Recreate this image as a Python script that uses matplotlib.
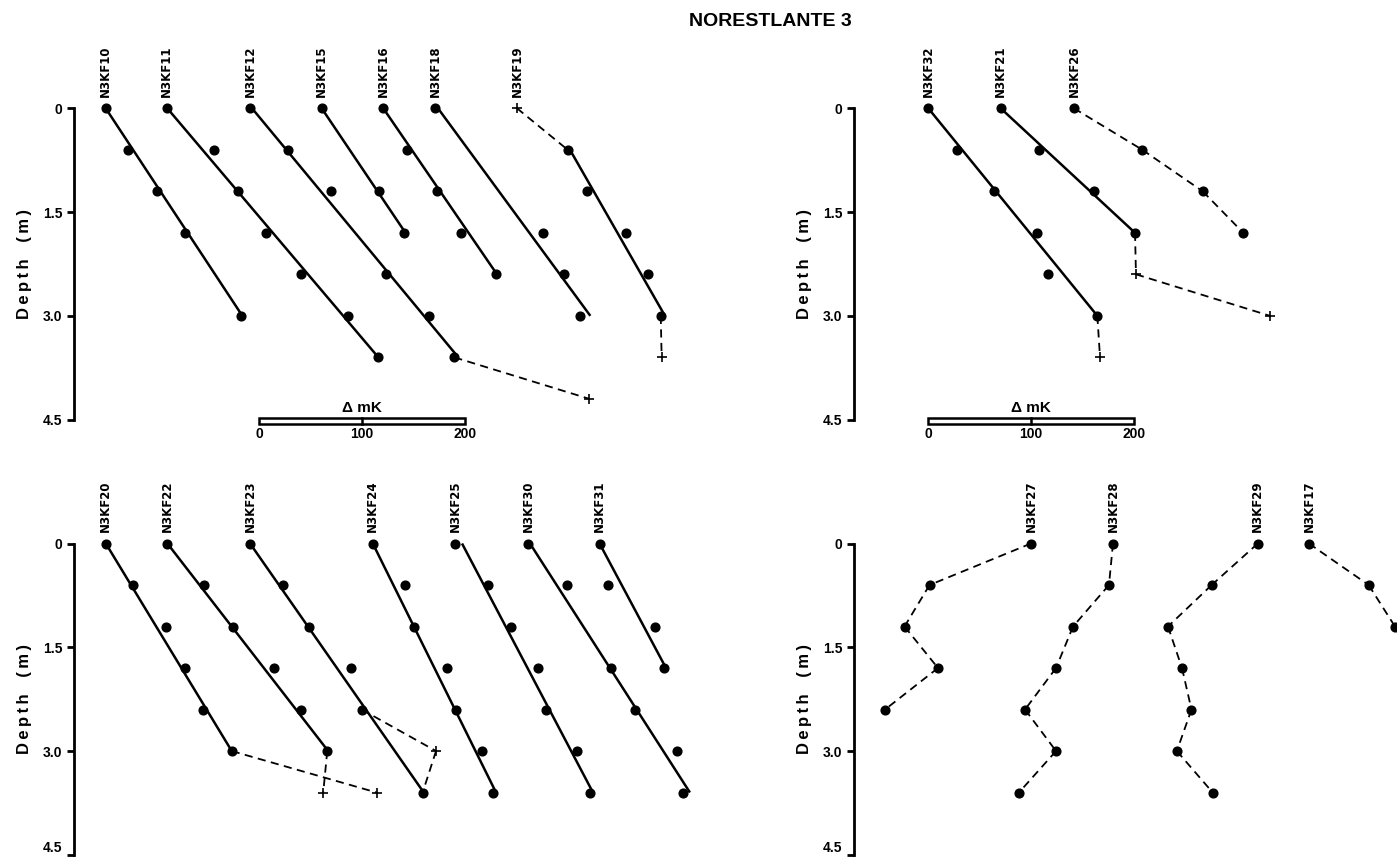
import matplotlib
matplotlib.use("Agg")
import matplotlib.pyplot as plt
from matplotlib.patches import Rectangle
import numpy as np

plt.rcParams['font.family'] = ['Liberation Sans', 'DejaVu Sans']
plt.rcParams['font.weight'] = 'bold'

W, H = 1397, 860

# temperature anomaly (mK) of each probe at each depth (m); 'o' fitted point, '+' rejected point
tl_names = ["N3KF10", "N3KF11", "N3KF12", "N3KF15", "N3KF16", "N3KF18", "N3KF19"]
tl_depth = [[0, .6, 1.2, 1.8, 3.0],
            [0, .6, 1.2, 1.8, 2.4, 3.0, 3.6],
            [0, .6, 1.2, 2.4, 3.0, 3.6, 4.2],
            [0, 1.2, 1.8],
            [0, .6, 1.2, 1.8, 2.4],
            [0, 1.8, 2.4, 3.0],
            [0, .6, 1.2, 1.8, 2.4, 3.0, 3.6]]
tl_dT = [[-149.4, -127.4, -99.8, -72.3, -17.8],
         [-90.1, -43.8, -20.4, 6.5, 40.3, 86.0, 115.8],
         [-9.1, 27.6, 69.5, 123.2, 165.4, 189.7, 321.0],
         [60.7, 116.4, 140.8],
         [120.6, 143.4, 172.6, 195.9, 230.0],
         [170.9, 275.7, 296.1, 311.7],
         [250.7, 300.0, 318.5, 357.0, 377.8, 390.5, 391.4]]
tl_kind = ["ooooo", "ooooooo", "oooooo+", "ooo", "ooooo", "oooo", "+ooooo+"]
tl_fit_depth = [(0, 3.0), (0, 3.6), (0, 3.6), (0, 1.8), (0, 2.4), (0, 3.0), (0.6, 3.0)]
tl_fit_dT = [(-149.4, -16.5), (-89.5, 115.8), (-7.1, 193.6), (60.7, 142.2),
             (120.6, 231.2), (173.8, 322.0), (302.2, 394.6)]

tr_names = ["N3KF32", "N3KF21", "N3KF26"]
tr_depth = [[0, .6, 1.2, 1.8, 2.4, 3.0, 3.6],
            [0, .6, 1.2, 1.8, 2.4, 3.0],
            [0, .6, 1.2, 1.8]]
tr_dT = [[0.3, 27.9, 64.4, 105.5, 116.2, 164.4, 167.0],
         [70.6, 108.1, 161.2, 201.0, 201.9, 332.0],
         [141.7, 208.1, 266.7, 306.1]]
tr_kind = ["oooooo+", "oooo++", "oooo"]
tr_fit_depth = [(0, 3.0), (0, 1.8), None]
tr_fit_dT = [(0.3, 164.4), (70.6, 201.0), None]

bl_names = ["N3KF20", "N3KF22", "N3KF23", "N3KF24", "N3KF25", "N3KF30", "N3KF31"]
bl_depth = [[0, .6, 1.2, 1.8, 2.4, 3.0, 3.6],
            [0, .6, 1.2, 1.8, 2.4, 3.0, 3.6],
            [0, .6, 1.2, 1.8, 2.4, 3.0, 3.6],
            [0, .6, 1.2, 1.8, 2.4, 3.0, 3.6],
            [0, .6, 1.2, 1.8, 2.4, 3.0, 3.6],
            [0, .6, 1.8, 2.4, 3.0, 3.6],
            [0, .6, 1.2, 1.8]]
bl_dT = [[-149.3, -123.2, -91.1, -72.3, -54.5, -26.8, 114.2],
         [-89.4, -53.5, -25.9, 14.6, 40.3, 66.1, 62.2],
         [-9.0, 23.3, 48.6, 88.9, 99.6, 171.9, 158.9],
         [110.4, 141.7, 150.5, 182.3, 191.1, 216.9, 227.0],
         [190.8, 222.2, 244.8, 271.4, 278.6, 308.7, 321.7],
         [261.4, 299.0, 341.8, 365.5, 406.0, 411.9],
         [331.0, 339.5, 384.9, 394.0]]
bl_kind = ["oooooo+", "oooooo+", "ooooo+o", "ooooooo", "ooooooo", "oooooo", "oooo"]
bl_fit_depth = [(0, 3.0), (0, 3.0), (0, 3.6), (0, 3.6), (0, 3.6), (0, 3.6), (0, 1.8)]
bl_fit_dT = [(-149.3, -26.8), (-89.4, 67.0), (-9.0, 160.0), (110.4, 230.3),
             (197.2, 324.6), (263.3, 418.9), (331.0, 395.6)]

br_names = ["N3KF27", "N3KF28", "N3KF29", "N3KF17"]
br_depth = [[0, .6, 1.2, 1.8, 2.4],
            [0, .6, 1.2, 1.8, 2.4, 3.0, 3.6],
            [0, .6, 1.2, 1.8, 2.4, 3.0, 3.6],
            [0, .6, 1.2]]
br_dT = [[100.0, 1.5, -22.8, 9.7, -41.7],
         [179.6, 175.7, 140.8, 124.3, 94.2, 124.3, 88.3],
         [320.2, 275.4, 233.0, 246.6, 255.8, 241.6, 276.4],
         [369.8, 427.8, 453.4]]
br_kind = ["ooooo", "ooooooo", "ooooooo", "ooo"]
br_fit_depth = [None, None, None, None]
br_fit_dT = [None, None, None, None]

depth_ticks = [0, 1.5, 3.0, 4.5]
depth_ticklabels = ["0", "1.5", "3.0", "4.5"]
scale_ticks = [0, 100, 200]

fig = plt.figure(figsize=(W / 100, H / 100), dpi=100)


def panel(axis_px, right_px, top_px, bottom_px, zero_px, px_per_mK):
    ax = fig.add_axes([axis_px / W, 1 - bottom_px / H,
                       (right_px - axis_px) / W, (bottom_px - top_px) / H])
    ax.set_xlim((axis_px - zero_px) / px_per_mK, (right_px - zero_px) / px_per_mK)
    ax.set_ylim(4.5, 0)
    for s in ["top", "right", "bottom"]:
        ax.spines[s].set_visible(False)
    ax.spines["left"].set_linewidth(2)
    ax.set_xticks([])
    ax.set_yticks(depth_ticks)
    ax.set_yticklabels(depth_ticklabels)
    ax.tick_params(axis="y", direction="out", length=5, width=2, labelsize=10, pad=3)
    ax.set_ylabel("D\u2009e\u2009p\u2009t\u2009h\u2003(\u2009m\u2009)", fontsize=12,
                  fontweight="bold", labelpad=8,
                  family=["Liberation Sans", "DejaVu Sans"])
    ax.patch.set_alpha(0)
    return ax


def draw(ax, names, depth, dT, kind, fit_depth, fit_dT):
    for i in range(len(names)):
        d = np.array(depth[i])
        t = np.array(dT[i])
        k = np.array(list(kind[i]))
        for j in range(len(d) - 1):
            if fit_depth[i] is None or k[j] == "+" or k[j + 1] == "+":
                ax.plot(t[j:j + 2], d[j:j + 2], color="black", lw=1.3,
                        dashes=(4.5, 3), clip_on=False)
        if fit_depth[i] is not None:
            ax.plot(fit_dT[i], fit_depth[i], color="black", lw=1.8,
                    solid_capstyle="butt", clip_on=False)
        dots = k == "o"
        ax.plot(t[dots], d[dots], "o", color="black", ms=6.3, clip_on=False)
        ax.plot(t[~dots], d[~dots], "+", color="black", ms=7, mew=1.2, clip_on=False)
        ax.annotate(names[i], (t[0], 0), xytext=(0, 8), textcoords="offset points",
                    rotation=90, ha="center", va="bottom", fontsize=8.5,
                    fontweight="bold", family=["Liberation Sans Narrow", "DejaVu Sans"],
                    annotation_clip=False)


def scale_bar(ax):
    ax.add_patch(Rectangle((scale_ticks[0], 4.48), scale_ticks[-1] - scale_ticks[0], 0.09,
                           fill=False, lw=1.8, ec="black", clip_on=False))
    ax.plot([scale_ticks[1]] * 2, [4.48, 4.57], color="black", lw=1.8, clip_on=False)
    ax.text(scale_ticks[1], 4.43, "\u0394 mK", ha="center", va="bottom",
            fontsize=11, fontweight="bold")
    for v in scale_ticks:
        ax.text(v, 4.61, str(v), ha="center", va="top", fontsize=10, fontweight="bold")


ax_tl = panel(73.7, 700, 108.3, 419.6, 259.3, 1.028)
ax_tr = panel(853.5, 1397, 108.3, 419.6, 928.0, 1.03)
ax_bl = panel(73.7, 700, 543.5, 854.8, 259.3, 1.028)
ax_br = panel(853.5, 1397, 543.5, 854.8, 928.0, 1.03)

# the lowest tick label of the bottom row sits on the page edge, lift it a little
fig.canvas.draw()
for ax in (ax_bl, ax_br):
    ax.get_yticklabels()[-1].set_verticalalignment("bottom")

draw(ax_tl, tl_names, tl_depth, tl_dT, tl_kind, tl_fit_depth, tl_fit_dT)
draw(ax_tr, tr_names, tr_depth, tr_dT, tr_kind, tr_fit_depth, tr_fit_dT)
draw(ax_bl, bl_names, bl_depth, bl_dT, bl_kind, bl_fit_depth, bl_fit_dT)
draw(ax_br, br_names, br_depth, br_dT, br_kind, br_fit_depth, br_fit_dT)

scale_bar(ax_tl)
scale_bar(ax_tr)

fig.text(770 / W, 1 - 22 / H, "NORESTLANTE 3", ha="center", va="center",
         fontsize=14, fontweight="bold")

fig.savefig("out.png", dpi=100)
